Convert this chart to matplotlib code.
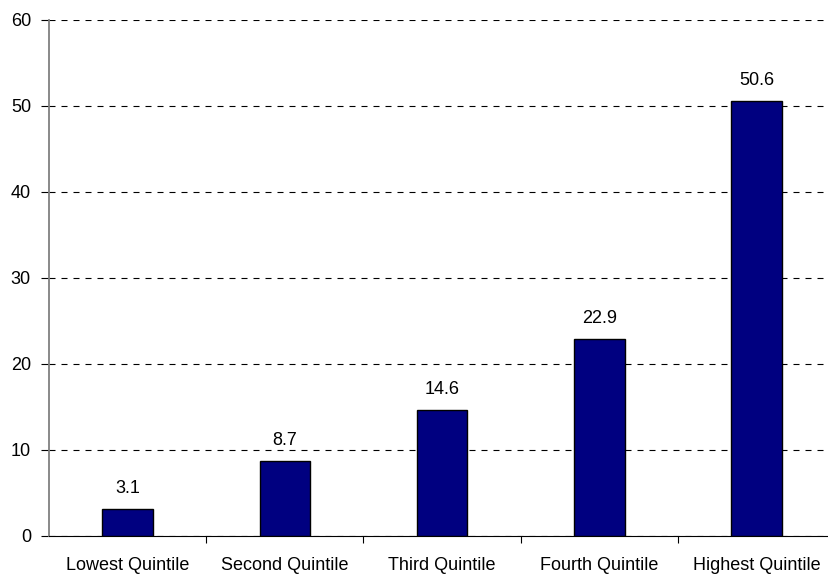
import matplotlib
matplotlib.use("Agg")
import matplotlib.pyplot as plt

categories = ["Lowest Quintile", "Second Quintile", "Third Quintile", "Fourth Quintile", "Highest Quintile"]
values = [3.1, 8.7, 14.6, 22.9, 50.6]
labels = ["3.1", "8.7", "14.6", "22.9", "50.6"]
yticks = [0, 10, 20, 30, 40, 50, 60]

plt.rcParams["font.family"] = ["Liberation Sans", "DejaVu Sans"]
plt.rcParams["font.size"] = 13

fig = plt.figure(figsize=(8.29, 5.74), dpi=100)
ax = fig.add_axes([49 / 829, (574 - 536) / 574, 780 / 829, (536 - 20) / 574])

x = list(range(len(categories)))
ax.bar(x, values, width=0.32, color="#000080", edgecolor="black", linewidth=1, zorder=3)
for xi, v, lab in zip(x, values, labels):
    ax.annotate(lab, (xi, v), xytext=(0, 15), textcoords="offset points",
                ha="center", va="center")

ax.set_ylim(0, 60)
ax.set_xlim(-0.5, -0.5 + 780 / 157.25)
ax.set_yticks(yticks)
ax.yaxis.grid(True, linestyle=(0, (5.4, 5.4)), color="black", linewidth=0.8)
ax.set_axisbelow(True)

ax.set_xticks([i + 0.5 for i in range(4)])
ax.set_xticklabels([])
ax.set_xticks(x, minor=True)
ax.set_xticklabels(categories, minor=True)
ax.tick_params(axis="x", which="minor", length=0, pad=15)
ax.tick_params(axis="x", which="major", length=5, direction="out")
ax.tick_params(axis="y", length=6, direction="out", pad=7)

for s in ["top", "right"]:
    ax.spines[s].set_visible(False)
ax.spines["left"].set_color("#808080")
ax.spines["left"].set_linewidth(1.3)
ax.spines["bottom"].set_color("black")

fig.savefig("out.png", dpi=100)
